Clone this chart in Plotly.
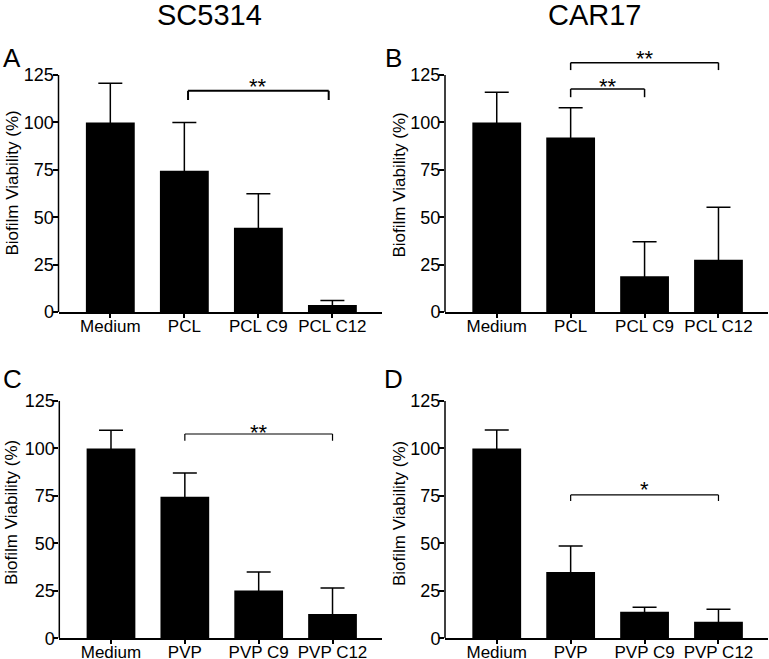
import plotly.graph_objects as go

W, H = 769, 659          # reference picture size (positions below are read in it)
H_LAYOUT = 669           # photographed page is drawn ~1.5 % shorter; compensate

# ---------------- data ----------------
cats_pcl = ["Medium", "PCL", "PCL C9", "PCL C12"]
cats_pvp = ["Medium", "PVP", "PVP C9", "PVP C12"]

sc5314_pcl_mean = [100, 74.5, 44.5, 3.7]
sc5314_pcl_sd = [20.6, 25.5, 17.9, 2.3]

car17_pcl_mean = [100, 92.1, 18.8, 27.6]
car17_pcl_sd = [15.9, 15.7, 18.3, 27.6]

sc5314_pvp_mean = [100, 74.5, 25.2, 12.8]
sc5314_pvp_sd = [9.6, 12.6, 9.7, 13.7]

car17_pvp_mean = [100, 34.9, 14.0, 8.7]
car17_pvp_sd = [9.7, 13.7, 2.3, 6.6]

y_ticks = [0, 25, 50, 75, 100, 125]
strain_titles = ["SC5314", "CAR17"]
y_title = "Biofilm Viability (%)"

FONT = "Liberation Sans, Arial, Helvetica, sans-serif"


def pxx(x):
    return x / W


def pxy(y):
    return 1 - y / H


panels = [
    dict(ax="", cats=cats_pcl, mean=sc5314_pcl_mean, sd=sc5314_pcl_sd,
         xdom=[pxx(58.5), pxx(382)], ydom=[pxy(312), pxy(37.1)], ymax=145,
         letter=("A", 12, 56), ytitle=(11.5, 183),
         brackets=[(1.05, 2.95, 116.7, 111.8, "**", 118.9, 2.0)]),
    dict(ax="2", cats=cats_pcl, mean=car17_pcl_mean, sd=car17_pcl_sd,
         xdom=[pxx(445), pxx(768)], ydom=[pxy(312), pxy(37.1)], ymax=145,
         letter=("B", 394, 56), ytitle=(399, 184.5),
         brackets=[(1, 2, 117.6, 113.3, "**", 118.9, 1.5),
                   (1, 3, 131.5, 127.6, "**", 133.5, 1.5)]),
    dict(ax="3", cats=cats_pvp, mean=sc5314_pvp_mean, sd=sc5314_pvp_sd,
         xdom=[pxx(59.3), pxx(382)], ydom=[pxy(638.3), pxy(382)], ymax=135,
         letter=("C", 12, 377), ytitle=(11, 513),
         brackets=[(1, 3, 107.6, 104.1, "**", 108.5, 1.2)]),
    dict(ax="4", cats=cats_pvp, mean=car17_pvp_mean, sd=car17_pvp_sd,
         xdom=[pxx(445), pxx(768)], ydom=[pxy(638.3), pxy(382)], ymax=135,
         letter=("D", 394, 377), ytitle=(399, 513),
         brackets=[(1, 3, 75.5, 72.3, "*", 78.4, 1.2)]),
]

fig = go.Figure()
shapes = []
annotations = []

for p in panels:
    a = p["ax"]
    xname = "x" + a
    yname = "y" + a
    fig.add_trace(go.Bar(
        x=p["cats"], y=p["mean"],
        xaxis=xname, yaxis=yname,
        width=0.66,
        marker=dict(color="black", line=dict(width=0)),
        # lower arm runs down inside the black bar to the baseline (hidden)
        error_y=dict(type="data", array=p["sd"], arrayminus=p["mean"],
                     symmetric=False, color="black", thickness=1.5, width=12),
        showlegend=False,
    ))
    fig.update_layout(**{
        "xaxis" + a: dict(domain=p["xdom"], anchor=yname, type="category",
                          range=[-0.7, 3.67], showline=True, linecolor="black",
                          linewidth=1.5, ticks="outside", ticklen=4, tickwidth=1.5,
                          tickcolor="black", showgrid=False, zeroline=False,
                          ticklabelstandoff=-6,
                          tickfont=dict(family=FONT, size=17, color="black"),
                          fixedrange=True),
        "yaxis" + a: dict(domain=p["ydom"], anchor=xname, range=[0, p["ymax"]],
                          showline=False, tickvals=y_ticks, ticks="outside",
                          ticklen=5, tickwidth=1.5, tickcolor="black",
                          showgrid=False, zeroline=False,
                          ticklabelstandoff=-5,
                          tickfont=dict(family=FONT, size=18, color="black"),
                          fixedrange=True),
    })
    # y axis line from 0 to 125
    shapes.append(dict(type="line", xref=xname + " domain", yref=yname,
                       x0=0, x1=0, y0=0, y1=y_ticks[-1],
                       line=dict(color="black", width=1.5)))
    # significance brackets
    for (x0, x1, yl, yd, txt, yt, lw) in p["brackets"]:
        ln = dict(color="black", width=lw)
        shapes.append(dict(type="line", xref=xname, yref=yname,
                           x0=x0, x1=x1, y0=yl, y1=yl, line=ln))
        shapes.append(dict(type="line", xref=xname, yref=yname,
                           x0=x0, x1=x0, y0=yd, y1=yl, line=ln))
        shapes.append(dict(type="line", xref=xname, yref=yname,
                           x0=x1, x1=x1, y0=yd, y1=yl, line=ln))
        annotations.append(dict(xref=xname, yref=yname, x=(x0 + x1) / 2, y=yt,
                                text=txt, showarrow=False, xanchor="center",
                                yanchor="middle",
                                font=dict(family=FONT, size=22, color="black")))
    # panel letter
    L, lx, ly = p["letter"]
    annotations.append(dict(xref="paper", yref="paper", x=pxx(lx), y=pxy(ly + 2),
                            text=L, showarrow=False, xanchor="center",
                            yanchor="middle",
                            font=dict(family=FONT, size=26, color="black")))
    # y title
    tx, ty = p["ytitle"]
    annotations.append(dict(xref="paper", yref="paper", x=pxx(tx), y=pxy(ty),
                            text=y_title, textangle=-90, showarrow=False,
                            xanchor="center", yanchor="middle",
                            font=dict(family=FONT, size=17, color="black")))

# strain titles
for t, cx in zip(strain_titles, [209.5, 594.5]):
    annotations.append(dict(xref="paper", yref="paper", x=pxx(cx), y=pxy(-3),
                            text=t, showarrow=False, xanchor="center",
                            yanchor="top",
                            font=dict(family=FONT, size=29, color="black")))

fig.update_layout(
    width=W, height=H_LAYOUT,
    margin=dict(l=0, r=0, t=0, b=0),
    paper_bgcolor="white", plot_bgcolor="white",
    font=dict(family=FONT, color="black"),
    shapes=shapes, annotations=annotations,
    showlegend=False,
)

fig.write_html(
    "out.html",
    config={"displayModeBar": False},
    post_script="document.body.style.margin='0px';document.body.style.overflow='hidden';",
)
